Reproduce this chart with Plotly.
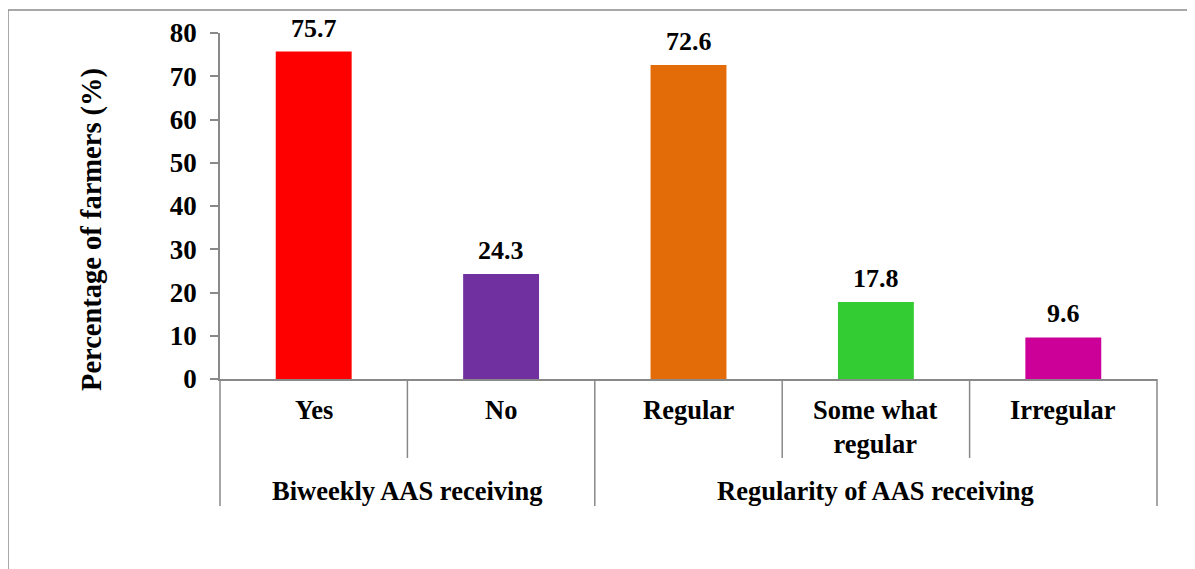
import plotly.graph_objects as go

categories = ["Yes", "No", "Regular", "Some what<br>regular", "Irregular"]
groups = ["Biweekly AAS receiving", "Regularity of AAS receiving"]
group_sizes = [2, 3]
values = [75.7, 24.3, 72.6, 17.8, 9.6]
colors = ["#FF0000", "#7030A0", "#E36C09", "#33CC33", "#CC0099"]

# the page body adds an 8px margin, so the figure is 8px smaller
W, H = 1187, 561
L, R, T, B = 212, 38, 25, 190
pw, ph = W - L - R, H - T - B
FONT = "Liberation Serif"
GRID = "#898989"

# page pixel -> paper coords (page = figure + 8px)
def px_x(px):
    return (px - 8 - L) / pw


def px_y(py):
    return (H - B - (py - 8)) / ph


fig = go.Figure(
    go.Bar(
        x=list(range(len(values))),
        y=values,
        marker=dict(color=colors, line_width=0),
        width=0.405,
        hoverinfo="y",
    )
)

annotations = []
# value labels above bars
for i, v in enumerate(values):
    annotations.append(dict(
        x=i, y=v, xref="x", yref="y", text=f"<b>{v}</b>", showarrow=False,
        yanchor="bottom", yshift=7, font=dict(family=FONT, size=26, color="black"),
    ))
# category labels
for i, c in enumerate(categories):
    annotations.append(dict(
        x=i, y=px_y(393), xref="x", yref="paper", text=f"<b>{c}</b>", showarrow=False,
        yanchor="top", font=dict(family=FONT, size=26.5, color="black"),
    ))
# group labels
start = 0
for g, n in zip(groups, group_sizes):
    annotations.append(dict(
        x=start + (n - 1) / 2, y=px_y(491), xref="x", yref="paper", text=f"<b>{g}</b>",
        showarrow=False, yanchor="middle", font=dict(family=FONT, size=26.5, color="black"),
    ))
    start += n
# y axis title
annotations.append(dict(
    x=px_x(92), y=px_y(230), xref="paper", yref="paper", text="<b>Percentage of farmers (%)</b>",
    showarrow=False, textangle=-90, xanchor="center", yanchor="middle",
    font=dict(family=FONT, size=28.5, color="black"),
))

shapes = []
# category dividers
n_cat = len(categories)
group_edges = {0}
acc = 0
for n in group_sizes:
    acc += n
    group_edges.add(acc)
for k in range(n_cat + 1):
    bottom = 506 if k in group_edges else 458
    xp = k / n_cat
    shapes.append(dict(type="line", xref="paper", yref="paper", x0=xp, x1=xp,
                       y0=0, y1=px_y(bottom), line=dict(color=GRID, width=1.5)))
# outer figure border
shapes.append(dict(type="rect", xref="paper", yref="paper", x0=px_x(8), x1=px_x(1215),
                   y0=px_y(590), y1=px_y(10), line=dict(color="#8c8c8c", width=1.5),
                   fillcolor="rgba(0,0,0,0)", layer="below"))

fig.update_layout(
    width=W, height=H,
    margin=dict(l=L, r=R, t=T, b=B, autoexpand=False),
    paper_bgcolor="white", plot_bgcolor="white",
    showlegend=False,
    xaxis=dict(range=[-0.5, n_cat - 0.5], showticklabels=False, ticks="",
               showgrid=False, zeroline=False, showline=True, linecolor=GRID, linewidth=1.5),
    yaxis=dict(range=[0, 80], dtick=10, tick0=0, ticks="outside", ticklen=8,
               tickcolor=GRID, tickwidth=1.5, showgrid=False, zeroline=False,
               showline=True, linecolor=GRID, linewidth=1.5, ticklabelstandoff=8,
               tickfont=dict(family=FONT, size=27, color="black", weight="bold")),
    annotations=annotations,
    shapes=shapes,
)

fig.write_html("out.html")
